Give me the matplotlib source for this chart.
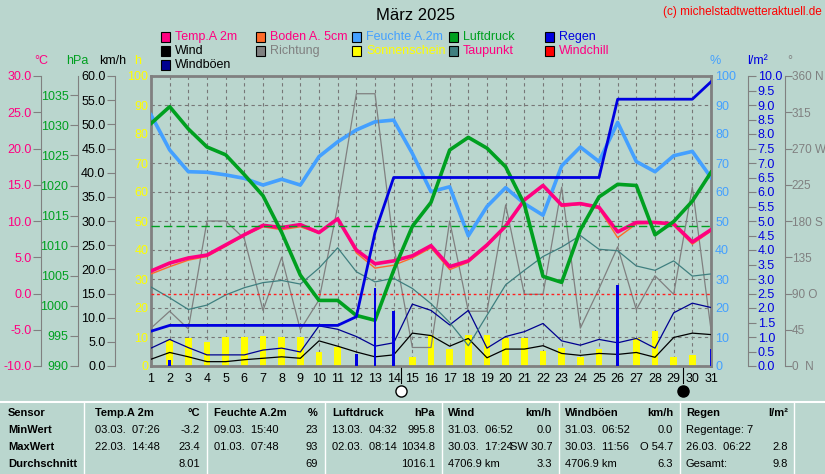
import numpy as np
import matplotlib.pyplot as plt
import matplotlib.transforms as mtransforms

plt.rcParams['font.family'] = ['Liberation Sans', 'DejaVu Sans']

# daily values, Maerz 2025
days = np.arange(1, 32)
temp = [3.1, 4.2, 4.9, 5.3, 6.7, 8.1, 9.4, 9.1, 9.5, 8.4, 10.3, 6.0, 4.1, 4.5, 5.2, 6.6,
        3.7, 4.5, 6.7, 9.3, 12.9, 14.9, 12.2, 12.4, 11.9, 8.5, 9.8, 9.8, 9.6, 7.1, 8.8]
soil = [2.7, 3.7, 4.6, 5.1, 6.5, 8.0, 9.2, 8.8, 9.2, 8.3, 10.4, 5.6, 3.5, 3.9, 4.9, 6.3,
        3.3, 4.3, 6.5, 9.2, 12.8, 14.8, 12.0, 12.3, 11.7, 7.7, 9.6, 9.7, 9.4, 6.8, 8.6]
dewpoint = [0.9, -0.6, -2.2, -1.6, -0.2, 0.8, 1.5, 1.8, 1.3, 3.5, 6.3, 3.0, 1.6, 2.1, 0.7, -1.4,
            -4.0, -7.2, -3.0, 1.2, 3.2, 5.1, 6.4, 8.0, 6.1, 5.9, 3.8, 3.2, 4.5, 2.4, 2.7]
humidity = [86.6, 74.5, 67.0, 66.8, 65.9, 64.7, 62.4, 64.4, 62.4, 72.2, 77.3, 81.4, 84.2, 84.8,
            73.3, 60.1, 61.8, 44.9, 55.0, 61.5, 56.0, 52.0, 69.0, 75.5, 70.5, 84.0, 70.5, 67.0,
            72.5, 74.0, 65.0]
pressure = [1030.3, 1033.1, 1029.4, 1026.4, 1025.1, 1021.8, 1018.3, 1012.2, 1005.1, 1000.9,
            1000.9, 998.4, 997.6, 1005.9, 1013.2, 1017.2, 1025.9, 1028.0, 1026.2, 1023.1,
            1016.9, 1004.9, 1003.9, 1012.6, 1018.1, 1020.2, 1020.0, 1011.8, 1014.0, 1017.4, 1022.2]
pressure_avg = 1013.2
wind = [1.4, 2.8, 1.9, 0.9, 0.9, 1.3, 1.6, 1.9, 1.6, 5.2, 4.1, 2.9, 1.9, 2.3, 6.8, 6.3,
        4.1, 5.7, 1.7, 3.5, 3.5, 4.2, 2.6, 2.2, 2.6, 2.4, 2.8, 1.8, 5.9, 6.8, 6.5]
gusts = [3.7, 5.5, 3.8, 2.3, 2.3, 2.3, 3.3, 3.7, 2.9, 8.3, 7.6, 6.1, 4.1, 4.8, 12.8, 11.5,
         8.5, 11.5, 3.7, 6.1, 7.1, 8.8, 5.2, 4.3, 5.5, 4.8, 5.7, 3.7, 11.0, 13.0, 12.1]
direction = [47, 68, 46, 180, 180, 158, 69, 135, 45, 82, 198, 338, 338, 150, 23, 23,
             180, 68, 68, 200, 89, 89, 222, 47, 96, 148, 70, 112, 89, 222, 45]
rain_sum = [1.2, 1.4, 1.4, 1.4, 1.4, 1.4, 1.4, 1.4, 1.4, 1.4, 1.4, 1.7, 4.6, 6.5, 6.5, 6.5,
            6.5, 6.5, 6.5, 6.5, 6.5, 6.5, 6.5, 6.5, 6.5, 9.2, 9.2, 9.2, 9.2, 9.2, 9.8]
rain_day = [0, 0.2, 0, 0, 0, 0, 0, 0, 0, 0, 0, 0.4, 2.7, 1.9, 0, 0,
            0, 0, 0, 0, 0, 0, 0, 0, 0, 2.8, 0, 0, 0, 0, 0.6]
sunshine = [0, 9.0, 9.5, 8.4, 10.1, 10.1, 10.3, 10.1, 10.1, 4.9, 6.4, 0.3, 0.5, 0.3, 3.2, 10.7,
            6.0, 10.7, 10.7, 9.5, 9.8, 5.3, 6.1, 3.0, 5.7, 0, 9.5, 12.2, 3.0, 3.8, 0]

bg = '#bad6ce'
c_temp = '#ff0080'
c_soil = '#ff6a28'
c_hum = '#44a0ff'
c_press = '#00a020'
c_rain = '#0000e0'
c_dew = '#3f7f7f'
c_gust = '#000090'
c_dir = '#808080'

W, H = 825, 474
fig = plt.figure(figsize=(W / 100, H / 100), dpi=100, facecolor=bg)


def px(x, y):
    return x / W, 1 - y / H


L, R, T, B = 151, 711, 76, 366
ax = fig.add_axes([L / W, 1 - B / H, (R - L) / W, (B - T) / H])
ax.set_facecolor(bg)
ax.set_xlim(1, 31)
ax.set_ylim(0, 100)
ax.set_xticks(days)
ax.set_yticks(np.arange(0, 101, 10))
ax.grid(True, color='#777777', linestyle=(0, (3, 3)), linewidth=0.8)
for s in ax.spines.values():
    s.set_color('#808080')
    s.set_linewidth(2)
ax.tick_params(axis='x', labelsize=9, length=0, pad=5)
ax.tick_params(axis='y', labelsize=9, colors='#ffff00', length=0, pad=2)
ax.set_yticklabels([str(v) for v in range(0, 101, 10)])

# sunshine bars and humidity on main (%) scale
ax.bar(days, sunshine, width=0.35, color='#ffff00', zorder=2)
ax.plot(days, humidity, color=c_hum, lw=2.6, zorder=3)


def twin(lim, pos, side, color, ticks, labels, size=9):
    a = ax.twinx()
    a.set_ylim(*lim)
    a.patch.set_visible(False)
    for s in a.spines.values():
        s.set_visible(False)
    a.spines[side].set_visible(True)
    a.spines[side].set_position(('axes', pos))
    a.spines[side].set_color('#808080')
    if side == 'left':
        a.yaxis.tick_left()
    else:
        a.yaxis.tick_right()
    a.set_yticks(ticks)
    a.set_yticklabels(labels)
    a.tick_params(axis='y', colors='#808080', labelcolor=color, labelsize=size, length=6, pad=1)
    return a


ax_dir = twin((0, 360), 1.132, 'right', '#808080', np.arange(0, 361, 45),
              ['0  N', '45', '90 O', '135', '180 S', '225', '270 W', '315', '360 N'], size=8.5)
ax_dir.tick_params(axis='y', length=5, pad=0)
ax_dir.plot(days, direction, color=c_dir, lw=0.9)

ax_kmh = twin((0, 60), -0.064, 'left', 'black', np.arange(0, 61, 5),
              ['%.1f' % v for v in np.arange(0, 61, 5)])
ax_kmh.plot(days, gusts, color=c_gust, lw=0.9)
ax_kmh.plot(days, wind, color='black', lw=0.9)

ax_t = twin((-10, 30), -0.196, 'left', c_temp, np.arange(-10, 31, 5),
            ['%.1f' % v for v in np.arange(-10, 31, 5)])
ax_t.plot(days, dewpoint, color=c_dew, lw=0.9)
ax_t.axhline(0, color='#ff2020', lw=1, linestyle=(0, (2, 2)))
ax_t.plot(days, soil, color=c_soil, lw=1)
ax_t.plot(days, temp, color=c_temp, lw=2.6)

ax_p = twin((990, 1038.2), -0.130, 'left', c_press, np.arange(990, 1036, 5),
            [str(v) for v in range(990, 1036, 5)])
ax_p.axhline(pressure_avg, color=c_press, lw=1, linestyle=(0, (6, 3)))
ax_p.plot(days, pressure, color=c_press, lw=2.6)

ax_r = twin((0, 10), 1.066, 'right', c_rain, np.arange(0, 10.01, 0.5),
            ['%.1f' % v for v in np.arange(0, 10.01, 0.5)])
ax_r.bar(days, rain_day, width=0.15, color=c_rain)
ax_r.plot(days, rain_sum, color=c_rain, lw=2)

# right % labels
ax_h = twin((0, 100), 1.0, 'right', c_hum, np.arange(0, 101, 10),
            [str(v) for v in range(0, 101, 10)])
ax_h.tick_params(axis='y', length=0, pad=3)

# moon phases
trans = mtransforms.blended_transform_factory(ax.transData, ax.transAxes)
for d, fc in [(14.4, 'white'), (29.5, 'black')]:
    ax.plot([d, d], [0, -0.06], color='black', lw=0.8, transform=trans, clip_on=False)
    ax.plot(d, -0.085, 'o', ms=8, mfc=fc, mec='black', transform=trans, clip_on=False)

# axis units
for x, t, c in [(41, '°C', c_temp), (77, 'hPa', c_press), (113, 'km/h', 'black'),
                (138, 'h', '#ffff00'), (715, '%', c_hum), (757, 'l/m²', c_rain), (790, '°', '#808080')]:
    fig.text(*px(x, 61), t, color=c, fontsize=9, ha='center', va='center')

fig.text(*px(415, 15), 'März 2025', fontsize=12, ha='center', va='center')
fig.text(*px(822, 12), '(c) michelstadtwetteraktuell.de', fontsize=8.5, color='red',
         ha='right', va='center')

legend = [('Temp.A 2m', c_temp, c_temp, 161, 37), ('Boden A. 5cm', c_soil, c_temp, 256, 37),
          ('Feuchte A.2m', c_hum, c_hum, 352, 37), ('Luftdruck', c_press, c_press, 449, 37),
          ('Regen', c_rain, c_rain, 545, 37), ('Wind', 'black', 'black', 161, 51),
          ('Richtung', '#808080', '#808080', 256, 51), ('Sonnenschein', '#ffff00', '#ffff00', 352, 51),
          ('Taupunkt', c_dew, c_temp, 449, 51), ('Windchill', '#ff0000', c_temp, 545, 51),
          ('Windböen', c_gust, 'black', 161, 65)]
for label, sq, tc, x, y in legend:
    fig.patches.append(plt.Rectangle(px(x, y + 5), 9 / W, 10 / H, transform=fig.transFigure,
                                     facecolor=sq, edgecolor='black', lw=0.8))
    fig.text(*px(x + 14, y), label, color=tc, fontsize=9, va='center')

# statistics table
fig.add_artist(plt.Line2D([0, 1], [1 - 402 / H] * 2, color='white', lw=1.5))
for x in [84, 207, 325, 442, 559, 680, 794]:
    fig.add_artist(plt.Line2D([x / W] * 2, [0, 1 - 403 / H], color='white', lw=1))
rows_y = [413, 430, 447, 464]
first = ['Sensor', 'MinWert', 'MaxWert', 'Durchschnitt']
for y, t in zip(rows_y, first):
    fig.text(*px(8, y), t, fontsize=8, fontweight='bold', va='center')
cols = [
    (95, 200, ['Temp.A 2m', '03.03.  07:26', '22.03.  14:48', ''], ['°C', '-3.2', '23.4', '8.01']),
    (214, 318, ['Feuchte A.2m', '09.03.  15:40', '01.03.  07:48', ''], ['%', '23', '93', '69']),
    (332, 435, ['Luftdruck', '13.03.  04:32', '02.03.  08:14', ''], ['hPa', '995.8', '1034.8', '1016.1']),
    (448, 552, ['Wind', '31.03.  06:52', '30.03.  17:24', '4706.9 km'], ['km/h', '0.0', 'SW 30.7', '3.3']),
    (565, 673, ['Windböen', '31.03.  06:52', '30.03.  11:56', '4706.9 km'], ['km/h', '0.0', 'O 54.7', '6.3']),
    (686, 788, ['Regen', 'Regentage: 7', '26.03.  06:22', 'Gesamt:'], ['l/m²', '', '2.8', '9.8']),
]
for xl, xr, left, right in cols:
    for i, y in enumerate(rows_y):
        w = 'bold' if i == 0 else 'normal'
        fig.text(*px(xl, y), left[i], fontsize=8, fontweight=w, va='center')
        fig.text(*px(xr, y), right[i], fontsize=8, fontweight=w, va='center', ha='right')

fig.savefig('out.png', dpi=100, facecolor=bg)
